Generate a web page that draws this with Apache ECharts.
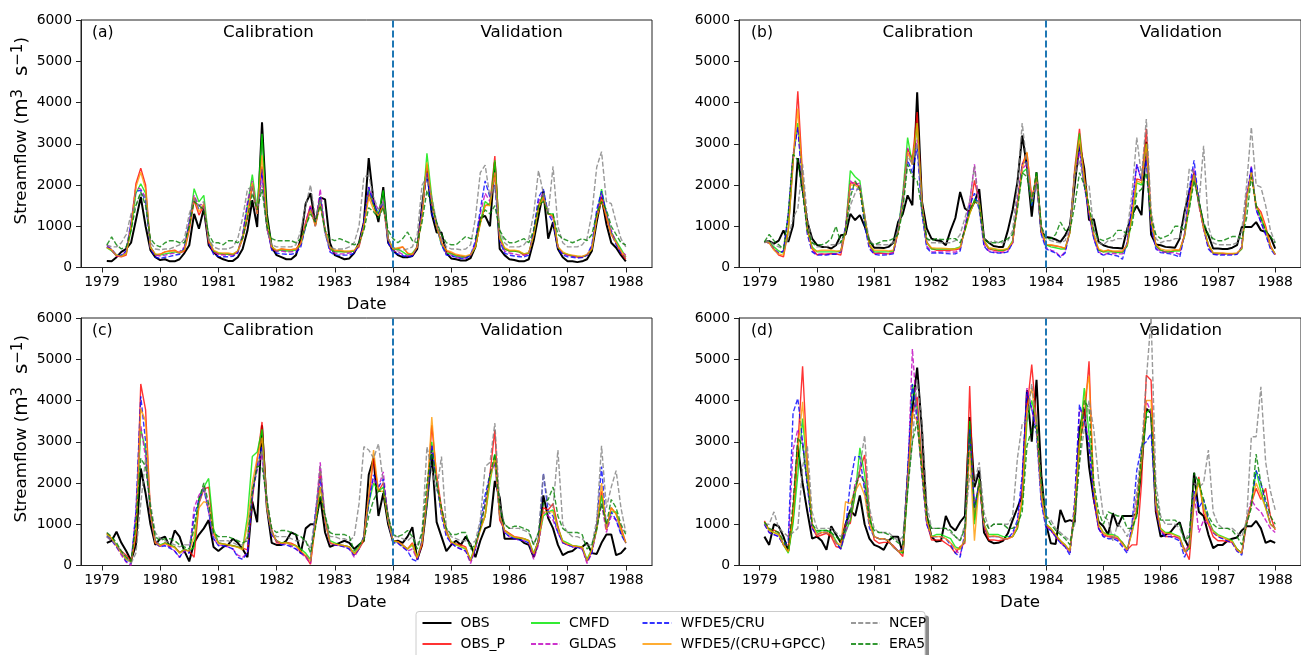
<!DOCTYPE html>
<html><head><meta charset="utf-8">
<script src="https://cdn.jsdelivr.net/npm/echarts@6/dist/echarts.min.js"></script>
<style>html,body{margin:0;padding:0;background:#fff}#c{width:1301px;height:655px}</style>
</head><body><div id="c"></div><script>
const YEAR_TICKS=[1979,1980,1981,1982,1983,1984,1985,1986,1987,1988];
const SERIES_NAMES=['OBS','OBS_P','CMFD','GLDAS','WFDE5/CRU','WFDE5/(CRU+GPCC)','NCEP','ERA5'];
const PANEL_LABELS=['(a)','(b)','(c)','(d)'];
const PERIOD_LABELS=['Calibration','Validation'];
const SPLIT_YEAR=1984;
const START_YEAR=1979;

// ---------- panel (a) ----------
const A_OBS=[
160,150,250,380,450,600,1150,1710,1000,420,250,180,
200,150,150,200,350,540,1300,940,1430,540,380,250,
200,160,160,250,450,900,1630,980,3520,1300,500,300,
250,200,200,300,700,1550,1800,1050,1700,1650,600,300,
250,200,220,350,600,1100,2650,1600,1100,1950,600,420,
300,250,250,280,450,1500,2400,1300,850,850,350,220,
200,170,170,230,500,1200,1250,1000,2550,450,300,200,
180,150,150,200,650,1250,1850,700,1100,450,250,150,
150,130,150,200,400,1100,1700,1050,600,480,300,150];
const A_OBS_P=[
500,420,280,260,300,1000,2030,2410,2000,500,300,320,
380,400,420,350,400,900,1630,1270,1500,600,380,330,
320,330,300,380,700,1200,2000,1300,2450,1000,450,400,
450,430,430,450,600,1100,1500,1050,1600,900,450,400,
400,380,380,400,500,1000,1800,1500,1300,1500,700,450,
450,500,350,300,500,1300,2500,1600,1000,600,400,350,
300,280,250,300,500,1100,1500,1550,2700,700,450,400,
400,380,300,350,800,1500,1750,1300,1250,500,350,300,
280,250,250,300,450,1200,1700,1200,800,600,350,200];
const A_CMFD=[
480,400,300,280,350,900,1800,2030,1800,500,320,300,
330,350,380,350,450,1000,1910,1590,1750,700,400,350,
330,320,320,400,750,1500,2250,1400,3240,1200,500,400,
420,400,400,420,550,1000,1400,1050,1700,900,450,380,
380,380,380,400,550,1000,1900,1500,1300,1870,700,450,
450,380,300,350,500,1300,2770,1700,1000,550,350,330,
280,250,250,300,500,1100,1600,1500,2600,800,450,400,
400,380,330,350,800,1450,1800,1300,1300,500,350,320,
280,270,260,300,450,1250,1900,1300,850,650,450,250];
const A_GLDAS=[
550,420,280,280,400,1100,1950,1900,1700,500,300,280,
300,330,350,380,500,1100,1750,1500,1550,650,380,320,
300,300,300,380,800,1600,2100,1300,2300,1000,450,400,
400,380,380,400,550,1100,1500,1000,1900,900,420,350,
330,330,350,380,550,1100,1950,1600,1400,1600,650,400,
380,320,280,300,500,1400,2400,1500,1100,600,330,300,
250,230,230,300,600,1300,1800,1600,2300,700,400,350,
330,300,300,330,850,1600,1800,1300,1200,500,330,300,
280,260,260,300,500,1300,1800,1300,900,600,400,300];
const A_CRU=[
500,450,300,300,400,1100,1850,1870,1600,450,250,220,
250,270,300,320,480,1100,1710,1400,1500,600,320,270,
260,260,270,350,750,1500,2000,1300,2380,1000,420,350,
330,320,320,350,500,1000,1450,1000,1700,850,380,300,
300,300,300,350,550,1100,1950,1550,1300,1550,600,350,
330,290,250,280,500,1400,2300,1300,1000,550,300,280,
250,220,220,300,650,1400,2100,1700,2000,650,350,300,
280,260,260,300,900,1700,1900,1300,1100,450,300,260,
250,230,240,300,550,1400,1850,1300,850,550,350,250];
const A_GPCC=[
480,430,300,270,330,1000,1950,2310,1900,480,330,320,
380,400,400,360,420,950,1700,1350,1550,650,420,360,
350,350,330,400,700,1300,2050,1300,2720,1100,500,420,
450,440,430,450,580,1050,1400,1000,1550,900,480,420,
420,400,400,420,550,1000,1700,1400,1250,1500,700,450,
480,500,350,320,500,1250,2550,1600,1000,600,420,380,
320,300,280,320,500,1050,1500,1500,2300,700,480,420,
420,400,330,360,780,1450,1700,1300,1250,500,380,320,
300,280,270,320,450,1200,1650,1250,800,600,400,250];
const A_NCEP=[
550,500,500,600,800,1300,1500,1800,1700,600,450,430,
450,450,500,550,700,1300,1650,1500,1600,700,500,450,
450,450,500,700,1200,1900,1950,1500,2000,900,550,500,
500,500,500,550,900,1500,2000,1200,1650,800,500,450,
450,450,500,600,1000,2200,2230,1700,1400,1600,700,500,
400,420,450,500,800,2000,2200,1700,1100,700,500,450,
450,430,450,550,1200,2300,2480,1700,2000,900,600,500,
500,500,550,700,1300,2350,1800,1300,2450,1000,600,500,
500,500,550,700,1300,2430,2810,1600,1550,1100,700,500];
const A_ERA5=[
550,740,550,450,500,900,1500,1830,1500,700,550,500,
600,650,650,600,600,1000,1600,1500,1400,800,600,600,
550,650,650,600,700,1200,1800,1400,1900,1000,700,650,
650,650,650,600,700,1000,1300,1100,1500,900,700,650,
700,650,600,550,600,900,1450,1350,1200,1450,900,700,
600,700,860,650,600,1100,1870,1500,1100,800,600,550,
550,650,750,700,700,1100,1400,1300,1500,900,700,600,
600,650,700,600,900,1500,1600,1300,1300,800,700,650,
600,650,700,650,800,1300,1600,1400,1000,800,600,550];

// ---------- panel (b) ----------
const B_OBS=[
620,640,580,650,900,620,1020,2650,1900,1100,700,550,
500,500,460,540,780,800,1300,1150,1270,1000,650,480,
480,470,500,600,1100,1300,1750,1510,4250,1600,950,700,
660,640,540,900,1200,1830,1430,1350,1590,1900,700,600,
520,500,500,900,1400,2070,3200,2450,1230,2310,860,740,
720,680,620,780,1020,2000,3000,2400,1150,1170,620,540,
500,480,470,460,940,1270,1500,1270,3050,800,560,540,
500,490,480,700,1350,1830,2270,1590,1020,780,460,460,
450,450,480,540,980,980,980,1100,900,860,740,460];
const B_OBS_P=[
620,600,450,300,260,900,2500,4270,2230,940,460,310,
330,320,340,330,300,900,2050,2050,1950,1250,540,340,
350,340,330,360,860,1670,2880,2640,3770,1590,620,460,
420,420,420,420,430,460,940,1350,2110,1590,620,450,
420,400,400,450,600,1590,2500,2780,1710,2150,940,540,
540,520,500,460,860,2400,3360,2230,1350,780,420,380,
420,380,380,380,540,1270,2150,2110,3360,1190,540,420,
380,380,420,420,780,1590,2310,1590,940,540,340,340,
340,330,330,340,460,1750,2300,1500,1350,1000,540,310];
const B_CMFD=[
620,620,500,400,350,900,2600,3500,2100,900,500,380,
380,380,380,380,400,900,2350,2200,2100,1200,550,380,
380,380,380,400,900,1800,3150,2500,3500,1500,600,450,
450,450,450,450,460,500,900,1300,1650,1600,650,470,
450,420,420,450,650,1500,2300,2400,1500,2300,900,550,
500,480,450,450,850,2300,3250,2100,1400,750,420,380,
380,380,360,360,520,1200,2050,2000,3000,1100,520,420,
380,380,400,400,750,1500,2250,1600,1000,550,350,340,
330,330,330,340,450,1600,2350,1500,1200,900,500,330];
const B_GLDAS=[
620,600,450,350,400,1200,2720,3400,2000,850,400,320,
320,320,330,330,380,1000,2100,2000,2050,1100,480,330,
330,330,340,360,900,1700,2900,2500,3100,1400,520,380,
380,380,380,380,370,450,1000,1600,2500,1500,550,400,
380,360,360,400,600,1600,2400,2500,1600,2200,850,480,
420,380,260,380,900,2300,2800,2000,1300,700,380,300,
350,340,330,330,600,1500,2500,2100,2800,1000,480,380,
370,360,360,320,800,1800,2400,1500,950,480,330,320,
320,320,320,330,500,1700,2450,1400,1100,800,480,320];
const B_CRU=[
620,600,430,350,400,1300,2700,3400,2000,800,380,300,
300,300,320,320,380,1000,1900,1900,1900,1000,450,320,
300,300,310,330,900,1700,2600,2300,2900,1300,480,350,
350,350,340,330,330,400,950,1500,1800,1400,520,380,
360,350,350,380,600,1600,2500,2600,1500,2100,800,450,
400,350,250,350,900,2300,2950,2000,1300,700,350,300,
330,300,280,200,620,1500,2500,2100,2600,1000,450,360,
350,330,300,250,800,1900,2600,1600,950,450,320,300,
300,300,300,320,500,1700,2450,1400,1100,800,450,300];
const B_GPCC=[
620,600,420,330,300,900,2600,3850,2100,900,450,400,
420,420,420,400,400,900,2000,2000,1900,1200,550,420,
420,420,400,420,850,1600,2800,2500,3500,1500,600,480,
470,470,460,450,450,480,900,1300,1600,1550,650,480,
460,440,440,460,620,1500,2400,2800,1600,2200,900,560,
550,530,500,470,850,2300,3100,2150,1400,800,450,400,
420,400,400,400,560,1250,2100,2050,3000,1150,560,450,
420,420,430,420,770,1550,2250,1550,950,560,360,350,
350,340,340,350,470,1650,2300,1450,1300,950,520,320];
const B_NCEP=[
600,650,550,500,450,700,1200,1430,2500,1200,600,500,
500,500,550,550,600,900,1500,1800,2000,1300,650,550,
550,550,550,600,900,1500,2700,2500,3000,1500,700,600,
600,600,600,600,650,800,1200,1600,2450,1400,700,600,
650,600,600,650,900,2000,3500,2500,1600,2000,1000,700,
650,620,600,650,1000,2200,2600,2000,2000,900,600,550,
650,650,700,700,900,1800,3150,2200,3600,1400,700,600,
650,650,700,700,1200,2400,2300,1500,2950,1000,600,550,
550,550,550,600,900,2000,3400,2000,1950,1500,900,600];
const B_ERA5=[
620,800,650,550,450,1300,2750,2600,1800,900,600,550,
550,600,700,1000,600,900,1700,2100,1900,1100,600,550,
600,650,650,700,800,1400,2500,2200,2100,1400,700,650,
700,680,680,700,700,600,900,1400,1600,1500,700,600,
600,600,650,700,800,1400,2300,2200,1600,2300,1000,700,
700,800,1100,900,900,1500,2300,2000,1500,900,700,650,
700,750,900,900,800,1000,1800,1900,2300,1200,800,700,
750,800,1000,1000,900,1400,2100,1600,1100,800,700,650,
650,700,750,750,700,1200,2200,1500,1200,900,750,600];

// ---------- panel (c) ----------
const C_OBS=[
550,600,820,550,350,120,500,2350,1750,1000,500,650,
700,450,850,700,350,100,550,750,900,1100,450,350,
450,500,650,550,400,200,1550,1050,3400,1400,550,500,
500,600,800,750,300,900,1000,1000,1650,800,450,500,
550,600,550,400,500,600,2200,2600,1200,1750,1000,580,
600,550,700,930,150,500,1500,2700,1050,700,350,500,
600,500,700,500,200,600,900,950,2050,1650,650,650,
650,650,550,500,200,600,1700,1150,900,500,250,320,
350,450,450,550,300,280,550,750,750,250,300,430];
const C_OBS_P=[
780,650,480,350,250,100,700,4400,3770,1270,540,460,
550,480,450,320,380,350,200,1500,1850,1900,800,550,
520,500,480,450,420,380,1600,2560,3480,1500,860,550,
540,560,540,480,340,220,30,1000,2300,1100,540,500,
500,480,450,250,400,600,1600,2600,1800,2000,1200,600,
580,500,400,550,150,500,1600,3400,2200,1400,860,540,
520,500,450,100,460,900,1200,2230,3280,1100,860,780,
700,680,650,600,250,600,1400,1350,1500,950,560,500,
480,460,450,100,350,900,1800,860,1400,1250,940,540];
const C_CMFD=[
750,650,500,300,150,100,900,3300,2800,1300,600,500,
550,500,450,300,400,350,450,1630,1900,2110,900,550,
520,500,480,450,400,1200,2640,2750,3300,1400,800,600,
550,560,500,480,400,300,150,1100,1900,1200,600,550,
500,480,450,300,450,700,1500,2000,1800,1900,1100,600,
560,480,400,500,200,600,1500,3000,2000,1300,800,580,
500,450,400,150,500,900,1200,2000,2700,1200,850,750,
680,660,650,600,300,600,1200,1300,1350,900,600,550,
480,470,450,150,400,850,1700,900,1300,1300,800,550];
const C_GLDAS=[
700,600,450,250,80,0,1300,3400,2600,1300,600,480,
500,450,350,200,350,300,1400,1700,1900,1300,650,500,
480,450,400,250,200,300,1800,2300,2700,1400,750,600,
520,520,480,400,300,200,50,1200,2500,1100,550,500,
480,450,400,200,400,700,1700,2100,1900,2270,1100,550,
550,450,350,400,150,600,1600,2900,2100,1300,750,550,
450,400,350,50,400,900,1500,2200,2500,1200,800,700,
650,620,600,550,150,500,1300,1200,1100,800,550,500,
450,440,400,50,300,900,1500,800,1200,1100,800,550];
const C_CRU=[
720,620,450,300,100,50,1300,4100,3000,1200,550,450,
480,420,350,200,380,300,1200,1600,1850,1300,650,480,
480,450,400,200,150,300,1700,2400,2900,1400,750,600,
500,500,450,400,300,250,100,1300,2100,1100,550,500,
480,450,400,250,400,700,1500,2200,1900,2100,1100,550,
540,450,350,150,100,600,1600,2900,2000,1200,700,550,
450,400,350,100,400,1000,1710,2200,2500,1200,800,700,
650,620,600,550,250,600,2230,1300,1200,800,550,500,
450,440,400,100,300,1000,2400,900,1300,1100,750,550];
const C_GPCC=[
760,660,480,300,150,80,800,3800,3500,1250,550,480,
530,480,430,300,380,350,700,1400,1550,1500,800,530,
520,500,470,440,380,1000,2000,2600,3100,1400,800,600,
540,550,520,480,350,250,100,1000,1900,1100,560,520,
500,480,450,280,420,650,1700,2800,1800,1800,1100,600,
580,490,400,520,180,550,1700,3600,2100,1300,800,570,
510,460,420,120,480,850,1200,2100,2600,1200,850,760,
690,670,650,600,280,600,1300,1300,1300,900,580,520,
480,460,450,120,380,900,2000,880,1400,1250,880,560];
const C_NCEP=[
700,600,500,350,200,50,300,1500,2600,1500,800,650,
600,550,500,450,500,500,1000,1500,1900,1400,700,600,
600,600,550,500,500,700,1800,2400,2800,1600,800,700,
700,700,650,600,600,600,400,1200,2400,1200,700,700,
650,650,600,700,1500,2880,2800,2600,2950,2000,1200,700,
700,650,600,700,500,800,2880,2300,1800,2640,900,700,
650,600,600,500,600,1100,2400,2500,3450,1500,1000,900,
900,900,850,800,500,800,2230,1500,1400,2800,1000,800,
700,700,650,500,500,1100,2900,1400,1900,2300,1400,800];
const C_ERA5=[
800,700,550,350,200,100,1000,2600,2400,1400,700,600,
650,650,600,500,450,400,900,1600,2000,1500,800,700,
700,700,650,600,550,600,1800,2400,2400,1600,900,800,
850,850,800,750,700,600,300,900,1700,1200,800,750,
750,750,700,350,500,600,1200,1590,1800,1800,1200,750,
700,750,850,700,400,800,2000,2800,2000,1400,900,750,
750,800,800,400,500,900,1500,2200,2700,1400,1000,900,
950,950,900,850,500,800,1500,1600,1900,1200,900,800,
800,800,750,400,500,900,1500,1000,1600,1400,1000,750];

// ---------- panel (d) ----------
const D_OBS=[
700,500,1000,950,700,350,1200,2900,2000,1300,650,700,
600,380,950,750,550,1000,1350,1200,1700,1000,650,500,
450,380,600,700,700,300,2100,3800,4800,3300,1200,700,
580,600,1200,950,850,1050,1200,3600,1900,2300,800,600,
540,550,600,780,1100,1400,1700,4250,3000,4500,2200,1000,
540,520,1350,1060,1100,1050,3300,3800,2400,1600,1060,950,
750,1270,950,1200,1200,1200,1250,2400,3800,3700,1300,700,
740,800,950,1050,650,400,2250,1300,1200,750,420,500,
500,600,650,680,850,950,950,1080,900,550,600,550];
const D_OBS_P=[
1080,860,860,800,500,340,1270,2900,4830,2480,940,700,
740,780,700,460,420,1020,1020,1750,2310,2680,1270,620,
540,560,560,480,350,220,2100,3690,4090,2480,1060,620,
620,620,540,460,300,460,540,4350,1100,2100,940,620,
620,600,620,650,700,900,1600,3800,4870,3500,1800,1000,
860,700,600,460,380,1270,3000,3500,4950,1590,900,750,
700,680,650,560,380,500,500,2000,4610,4490,1350,860,
700,700,700,650,400,140,1500,2150,1270,1000,700,600,
600,580,560,400,300,1000,1500,1870,1600,1870,1200,860];
const D_CMFD=[
1050,850,800,750,500,300,1000,2200,3560,2300,1000,800,
850,850,800,600,400,800,1100,1700,2850,2200,1200,700,
650,650,600,450,350,300,1800,4400,3800,2300,1100,700,
750,750,700,650,450,400,600,3500,1000,2100,1000,750,
750,750,700,700,700,900,1500,3500,4000,3500,1700,1000,
900,750,600,500,350,1300,3000,4300,3200,1800,1000,800,
750,750,700,550,400,800,1300,2500,3700,3800,1500,900,
800,800,750,700,350,400,1600,2100,1400,1100,850,750,
700,650,600,400,300,1100,1500,2300,1800,1400,1000,900];
const D_GLDAS=[
1000,800,750,700,500,500,2800,3300,3000,2000,900,750,
800,800,750,550,400,800,1200,2000,2200,2000,1000,700,
650,650,600,450,350,400,2000,5250,3600,2200,1000,700,
700,700,650,550,400,250,700,3100,1400,2000,950,700,
700,700,650,650,750,1000,2000,4300,3800,3300,1600,950,
850,700,550,450,300,1500,3800,3600,3000,1700,900,700,
700,700,650,500,350,900,1600,2600,4000,3700,1500,850,
750,750,700,650,350,500,1800,800,1100,1000,800,700,
650,600,550,350,300,1100,1600,1400,1300,1100,900,800];
const D_CRU=[
1000,800,750,700,500,600,3700,4050,3000,1900,900,750,
800,800,750,550,400,900,2000,2640,2640,1800,900,700,
650,650,600,450,350,400,2300,4400,3500,2200,1000,700,
700,700,650,500,300,200,800,3300,1400,2000,950,700,
700,700,650,650,800,1100,2200,4200,3800,3200,1500,900,
850,700,550,450,250,1600,3900,3500,2900,1600,900,700,
650,650,600,450,300,1000,2300,2900,3000,3200,1400,800,
700,700,650,600,200,500,1800,1400,1600,1100,800,700,
650,600,550,350,250,1100,1500,2300,2000,1500,1000,900];
const D_GPCC=[
1050,850,800,750,500,330,1200,2800,3970,2300,1000,750,
800,800,750,550,500,1550,1500,1800,2000,1700,1000,700,
650,650,600,450,350,350,2000,3700,3500,2300,1100,700,
700,700,650,550,400,400,650,2800,600,2000,1000,700,
720,700,650,650,700,950,1600,3800,4300,3400,1700,1000,
900,750,600,500,350,1400,2900,4000,4600,1900,1000,800,
720,720,680,520,380,800,1400,2600,4000,4000,1500,880,
780,780,730,680,330,450,1600,2000,1400,1050,820,720,
680,630,580,380,300,1100,1500,2000,1700,1400,1000,900];
const D_NCEP=[
1000,1000,1300,900,800,700,800,900,2400,2900,1300,900,
900,900,900,800,700,900,1300,1800,2400,3150,1400,900,
800,800,800,700,600,700,1900,3000,4500,3500,1500,900,
900,900,900,800,700,600,1000,2200,2000,2500,1300,900,
1000,1000,1000,1000,1200,2600,3440,3500,4400,3500,2000,1200,
1100,900,800,700,600,1000,2500,3300,4000,3300,2100,1200,
1100,600,1000,900,700,1000,1800,2800,4500,6000,2000,1200,
1000,1000,1000,900,600,800,2000,1900,2000,2800,1300,1000,
900,900,900,800,700,1100,3120,3120,4330,2500,1800,1350];
const D_ERA5=[
1050,900,850,800,600,400,1500,3100,2900,2000,1000,850,
850,850,800,700,600,900,1300,1900,2200,2000,1100,850,
800,800,750,650,550,500,1800,3000,3500,2300,1200,900,
900,900,900,850,700,600,900,3200,1400,2000,1100,900,
1000,1000,1000,900,900,1000,1300,2900,3300,3400,2000,1200,
1000,850,750,650,500,1200,2500,4000,3800,2000,1300,1000,
1300,1250,1200,1200,900,900,1200,2800,3600,3600,1700,1100,
1100,1100,1100,1000,600,700,2250,2000,1600,1200,1000,900,
900,900,850,700,500,1000,1400,2700,2000,1600,1200,1000];

// ---------- chart ----------
const FONT='"DejaVu Sans", sans-serif';
const STYLES=[
 {color:'#000000',width:2,type:'solid',opacity:1},
 {color:'#ff0000',width:1.4,type:'solid',opacity:0.8},
 {color:'#00e600',width:1.4,type:'solid',opacity:0.8},
 {color:'#bf00bf',width:1.4,type:[5,2.2],opacity:0.8},
 {color:'#0000ff',width:1.4,type:[5,2.2],opacity:0.8},
 {color:'#ff9900',width:1.4,type:'solid',opacity:0.8},
 {color:'#808080',width:1.4,type:[5,2.2],opacity:0.8},
 {color:'#008000',width:1.4,type:[5,2.2],opacity:0.8}
];
const PANELS=[
 {data:[A_OBS,A_OBS_P,A_CMFD,A_GLDAS,A_CRU,A_GPCC,A_NCEP,A_ERA5],left:81,top:20,width:571,yName:true,xName:true,lab:92,cal:268.5,val:521.7},
 {data:[B_OBS,B_OBS_P,B_CMFD,B_GLDAS,B_CRU,B_GPCC,B_NCEP,B_ERA5],left:739,top:20,width:572,yName:false,xName:false,lab:751,cal:928,val:1181},
 {data:[C_OBS,C_OBS_P,C_CMFD,C_GLDAS,C_CRU,C_GPCC,C_NCEP,C_ERA5],left:81,top:318,width:571,yName:true,xName:true,lab:92,cal:268.5,val:521.7},
 {data:[D_OBS,D_OBS_P,D_CMFD,D_GLDAS,D_CRU,D_GPCC,D_NCEP,D_ERA5],left:739,top:318,width:572,yName:false,xName:true,lab:751,cal:928,val:1181}
];
const PANEL_H=247.5;
const monthX=i=>START_YEAR+(i+1)/12;

const grids=[],xAxes=[],yAxes=[],series=[],graphics=[];
PANELS.forEach((p,pi)=>{
  grids.push({left:p.left,top:p.top,width:p.width,height:PANEL_H,show:true,borderColor:'#222',borderWidth:1,backgroundColor:'transparent'});
  xAxes.push({type:'value',gridIndex:pi,min:1978.64,max:1988.45,
    name:p.xName?'Date':'',nameLocation:'middle',nameGap:29,
    nameTextStyle:{fontSize:16.7,fontFamily:FONT,color:'#000'},
    splitLine:{show:false},
    axisLine:{show:true,lineStyle:{color:'#222',width:1}},
    axisTick:{show:true,length:5,lineStyle:{color:'#222'},customValues:YEAR_TICKS},
    axisLabel:{show:true,margin:8,fontSize:13.9,fontFamily:FONT,color:'#000',customValues:YEAR_TICKS,formatter:v=>String(v)}});
  yAxes.push({type:'value',gridIndex:pi,min:0,max:6000,interval:1000,
    name:p.yName?'{a|Streamflow (}{b|m}{s|3}{b|  s}{s|−1}{a|)}':'',nameLocation:'middle',nameGap:48,
    nameTextStyle:{color:'#000',padding:[0,0,0,26],rich:{
      a:{fontSize:16.7,fontFamily:FONT,color:'#000',lineHeight:22},
      b:{fontSize:20,fontFamily:FONT,color:'#000',lineHeight:22},
      s:{fontSize:15,fontFamily:FONT,color:'#000',lineHeight:13,verticalAlign:'top'}}},
    splitLine:{show:false},
    axisLine:{show:true,lineStyle:{color:'#222',width:1}},
    axisTick:{show:true,length:5,lineStyle:{color:'#222'}},
    axisLabel:{show:true,margin:9,fontSize:13.9,fontFamily:FONT,color:'#000',formatter:v=>String(v)}});
  p.data.forEach((arr,si)=>{
    const st=STYLES[si];
    const s={type:'line',name:SERIES_NAMES[si],xAxisIndex:pi,yAxisIndex:pi,
      data:arr.map((v,i)=>[monthX(i),v]),
      symbol:'none',showSymbol:false,smooth:false,animation:false,
      lineStyle:{color:st.color,width:st.width,type:st.type,opacity:st.opacity},
      itemStyle:{color:st.color,opacity:st.opacity},
      emphasis:{disabled:true}};
    if(si===p.data.length-1){
      s.markLine={silent:true,symbol:['none','none'],label:{show:false},animation:false,
        lineStyle:{color:'#1f77b4',width:2,type:[7,3],opacity:1},
        emphasis:{disabled:true},
        data:[{xAxis:SPLIT_YEAR}]};
    }
    series.push(s);
  });
  const ty=p.top+12.5;
  graphics.push({type:'text',x:p.lab,y:ty,style:{text:PANEL_LABELS[pi],font:'15.5px '+FONT,fill:'#000',textAlign:'left',textVerticalAlign:'middle',verticalAlign:'middle'}});
  graphics.push({type:'text',x:p.cal,y:ty,style:{text:PERIOD_LABELS[0],font:'16.7px '+FONT,fill:'#000',textAlign:'center',textVerticalAlign:'middle',verticalAlign:'middle'}});
  graphics.push({type:'text',x:p.val,y:ty,style:{text:PERIOD_LABELS[1],font:'16.7px '+FONT,fill:'#000',textAlign:'center',textVerticalAlign:'middle',verticalAlign:'middle'}});
});
// legend frame + shadow
graphics.push({type:'rect',z:0,shape:{x:420,y:615.5,width:509,height:60,r:3},style:{fill:'#8a8a8a'}});
graphics.push({type:'rect',z:1,shape:{x:416,y:611.5,width:509,height:60,r:3},style:{fill:'#ffffff',stroke:'#cccccc',lineWidth:1}});

const LEGEND_COLS=[
 {names:[SERIES_NAMES[0],SERIES_NAMES[1]],left:421.5},
 {names:[SERIES_NAMES[2],SERIES_NAMES[3]],left:530},
 {names:[SERIES_NAMES[4],SERIES_NAMES[5]],left:641.5},
 {names:[SERIES_NAMES[6],SERIES_NAMES[7]],left:850}
];
const legends=LEGEND_COLS.map(c=>({orient:'vertical',left:c.left,top:616,width:250,height:60,padding:0,
  itemWidth:29,itemHeight:14,itemGap:7,selectedMode:false,z:10,data:c.names,
  itemStyle:{opacity:0,borderWidth:0},
  textStyle:{fontSize:13.9,fontFamily:FONT,color:'#000',lineHeight:14,padding:[0,0,0,4]}}));

const chart=echarts.init(document.getElementById('c'),null,{renderer:'canvas'});
chart.setOption({
  animation:false,backgroundColor:'#ffffff',
  textStyle:{fontFamily:FONT},
  grid:grids,xAxis:xAxes,yAxis:yAxes,series:series,legend:legends,
  graphic:{elements:graphics}
});
</script></body></html>
